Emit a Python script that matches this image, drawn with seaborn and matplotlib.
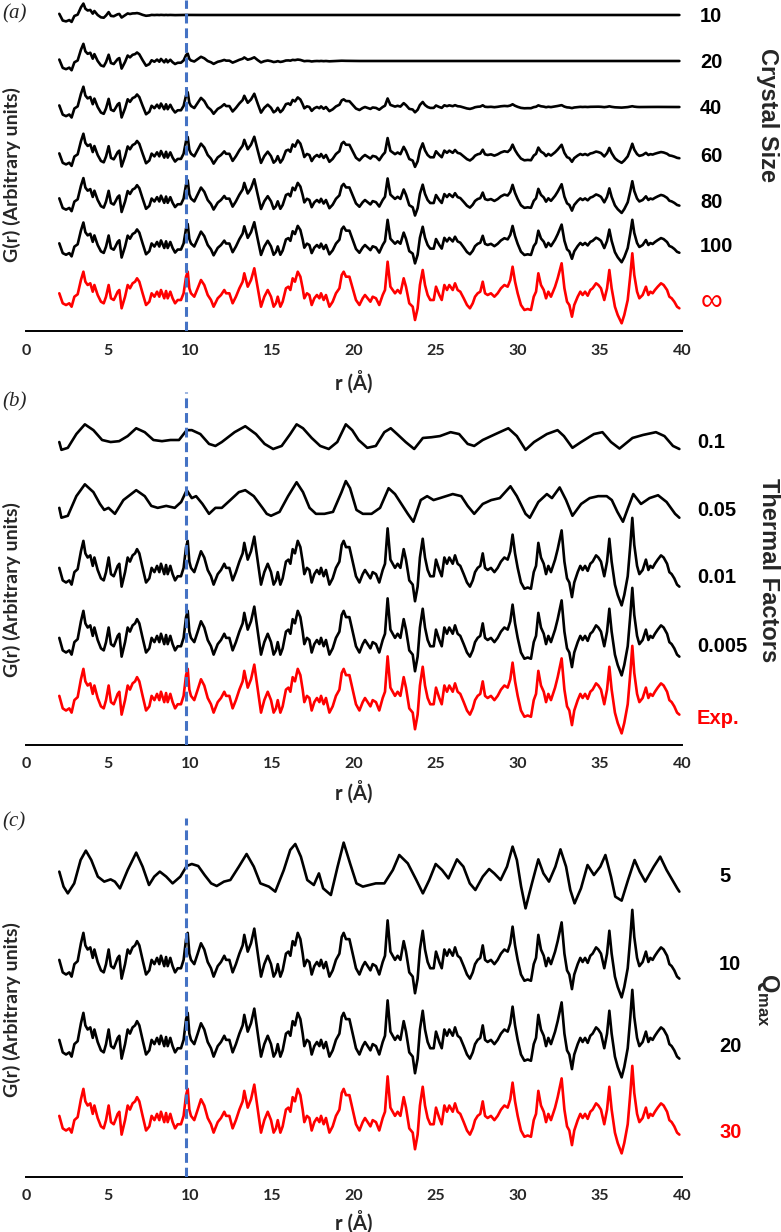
import numpy as np
import matplotlib
matplotlib.use("Agg")
import matplotlib.pyplot as plt
import seaborn as sns

r_exp = [2.03, 2.24, 2.44, 2.64, 2.78, 2.95, 3.15, 3.35, 3.50, 3.62, 3.76, 3.92, 4.07, 4.17, 4.37, 4.57,
         4.74, 4.88, 5.04, 5.18, 5.35, 5.45, 5.59, 5.69, 5.83, 6.04, 6.20, 6.34, 6.50, 6.65, 6.77, 6.91,
         7.11, 7.32, 7.42, 7.52, 7.66, 7.83, 7.99, 8.13, 8.23, 8.43, 8.54, 8.64, 8.80, 8.94, 9.09, 9.25,
         9.45, 9.61, 9.76, 9.86, 9.96, 10.06, 10.26, 10.47, 10.67, 10.87, 11.08, 11.28, 11.44, 11.69,
         11.89, 12.09, 12.20, 12.40, 12.60, 12.80, 13.01, 13.21, 13.31, 13.52, 13.72, 13.92, 14.13, 14.33,
         14.53, 14.74, 14.94, 15.10, 15.24, 15.35, 15.51, 15.65, 15.85, 16.00, 16.12, 16.26, 16.40, 16.57,
         16.73, 16.87, 16.97, 17.13, 17.28, 17.42, 17.58, 17.74, 17.89, 17.99, 18.15, 18.29, 18.50, 18.70,
         18.90, 19.11, 19.25, 19.37, 19.51, 19.72, 19.92, 20.12, 20.33, 20.53, 20.67, 20.83, 21.00, 21.14,
         21.34, 21.54, 21.75, 21.89, 22.05, 22.22, 22.36, 22.50, 22.66, 22.83, 23.03, 23.17, 23.37, 23.58,
         23.72, 23.88, 24.02, 24.19, 24.33, 24.49, 24.65, 24.86, 25.00, 25.20, 25.35, 25.51, 25.67, 25.81,
         26.02, 26.16, 26.32, 26.48, 26.69, 26.89, 27.07, 27.24, 27.38, 27.54, 27.70, 27.85, 27.99, 28.15,
         28.35, 28.56, 28.76, 28.96, 29.17, 29.37, 29.53, 29.67, 29.82, 29.98, 30.18, 30.39, 30.59, 30.79,
         30.96, 31.10, 31.24, 31.40, 31.57, 31.71, 31.85, 32.01, 32.26, 32.42, 32.66, 32.83, 32.99, 33.13,
         33.29, 33.43, 33.64, 33.80, 33.94, 34.09, 34.25, 34.41, 34.55, 34.76, 34.90, 35.06, 35.26, 35.43,
         35.57, 35.71, 35.91, 36.08, 36.32, 36.48, 36.69, 36.85, 36.97, 37.09, 37.26, 37.40, 37.60, 37.80,
         37.95, 38.07, 38.21, 38.35, 38.52, 38.72, 38.88, 39.09, 39.23, 39.37, 39.53, 39.70, 39.84]
g_exp = [0.17, -0.83, -1.0, -0.83, -1.17, -0.17, 0.07, 1.5, 2.33, 1.33, 1.0, 1.17, 0.33, 1.0, 0.0, -0.67,
         -0.83, -0.17, 1.0, -0.33, -0.5, -0.17, 0.33, 0.5, -1.33, -0.17, 1.0, 0.67, 1.17, 1.33, 1.67, 1.33,
         0.17, -1.0, -0.83, -0.67, 0.17, -0.17, 0.33, -0.17, 0.5, -0.33, 0.4, -0.33, 0.33, -0.33, -0.83, -0.5,
         -0.5, 0.17, 1.83, 2.33, 0.67, 0.17, -0.17, 0.67, 1.5, 1.0, 0.0, -0.5, -1.17, -0.33,
         0.0, 0.5, 0.17, 0.17, -0.83, -0.17, 0.67, 1.33, 2.17, 0.83, 1.5, 2.67, 0.67, -1.17,
         -0.17, 0.5, -0.17, -1.17, -0.83, -0.17, -1.17, -0.67, 0.67, 0.83, 0.5, 1.67, 1.33, 2.33,
         1.83, 0.67, -0.33, 0.17, 0.0, -1.0, -0.33, 0.0, -0.33, 0.17, -0.5, 0.0, -1.17, -0.67,
         0.17, 0.67, 2.0, 2.33, 1.83, 1.83, 0.67, -0.5, -1.0, -0.33, 0.0, -0.33, -0.67, -0.17,
         -0.33, -1.0, 0.0, 0.5, 3.33, 0.83, 0.5, 0.17, 0.5, 0.17, 1.67, 0.83, -0.83, -1.17,
         -2.5, -1.33, 1.0, 2.5, 1.0, 0.0, -0.5, -0.5, 0.83, 0.0, -0.5, 1.0, 0.5, 1.0,
         0.5, 1.17, 0.5, 0.33, -0.33, -1.0, -1.33, -0.83, -0.17, 0.17, 0.33, 1.33, 0.17, 0.0,
         0.17, -0.17, 0.17, 0.67, 1.0, 0.83, 1.5, 2.83, 1.33, 0.17, -1.0, -1.5, -1.4, -1.5,
         -0.17, 0.33, 2.17, 1.0, 0.5, -0.33, 0.33, -0.17, 0.83, 1.67, 3.17, 0.67, -0.67, -1.0,
         -2.17, -1.0, -0.17, 0.33, 0.0, 0.33, -0.07, 0.5, 0.67, 1.17, 1.0, 0.67, -0.5, 0.67,
         2.5, 0.67, -1.17, -2.0, -2.83, -2.0, -0.5, 2.0, 4.17, 2.0, 0.33, -0.33, 0.0, 0.83,
         0.0, 0.33, 0.17, 0.5, 0.83, 1.17, 1.0, 0.5, -0.17, -0.33, -0.67, -1.17, -1.33]

# panel (a): damping of the peaks with crystal size, read as amplitude ratios
sizes = ["10", "20", "40", "60", "80", "100"]
env_r = [2, 4, 6, 8, 10, 15, 20, 25, 30, 35, 40]
env_10 = [0.70, 0.42, 0.17, 0.03, 0.0, 0.0, 0.0, 0.0, 0.0, 0.0, 0.0]
env_20 = [0.85, 0.70, 0.56, 0.43, 0.31, 0.09, 0.0, 0.0, 0.0, 0.0, 0.0]
env_40 = [0.93, 0.85, 0.78, 0.70, 0.63, 0.46, 0.31, 0.18, 0.09, 0.03, 0.0]
env_60 = [0.95, 0.90, 0.86, 0.81, 0.77, 0.66, 0.55, 0.45, 0.36, 0.29, 0.24]
env_80 = [0.97, 0.93, 0.90, 0.87, 0.84, 0.76, 0.68, 0.60, 0.53, 0.47, 0.42]
env_100 = [0.98, 0.96, 0.94, 0.92, 0.90, 0.84, 0.78, 0.72, 0.67, 0.62, 0.58]
envelopes = [env_10, env_20, env_40, env_60, env_80, env_100]

# panel (b): broad thermal factor curves
r_b01 = [2.03, 2.16, 2.55, 3.07, 3.59, 4.11, 4.64, 5.16, 5.68, 6.20, 6.72, 7.24, 7.77, 8.29, 8.81, 9.33,
         9.80, 10.11, 10.63, 11.16, 11.55, 11.94, 12.72, 13.37, 14.02, 14.55, 15.07, 15.59, 16.11, 16.50,
         16.89, 17.42, 17.94, 18.46, 18.98, 19.50, 19.89, 20.28, 20.81, 21.33, 21.85, 22.24, 22.63, 23.15,
         23.67, 24.20, 24.72, 25.24, 25.89, 26.41, 26.93, 27.33, 27.85, 28.63, 29.41, 29.93, 30.46, 30.98,
         31.76, 32.41, 32.80, 33.32, 33.85, 34.63, 35.15, 35.67, 36.19, 36.98, 37.63, 38.41, 38.93, 39.45, 39.84]
g_b01 = [-0.14, -0.68, -0.54, 0.41, 1.08, 0.68, 0.0, -0.14, -0.08, 0.27, 0.81, 0.54, 0.0, -0.08, 0.0, 0.0,
         0.68, 0.68, 0.41, -0.27, -0.41, -0.14, 0.54, 0.95, 0.41, -0.27, -0.62, -0.41, 0.41, 1.08,
         0.81, 0.14, -0.41, -0.62, -0.14, 1.08, 0.68, 0.0, -0.54, -0.41, 0.54, 0.81, 0.41, -0.14,
         -0.62, 0.14, 0.19, 0.27, 0.54, 0.41, -0.27, -0.41, 0.0, 0.41, 0.81, 0.27, -0.68, -0.14,
         0.41, 0.68, 0.27, -0.54, -0.14, 0.41, 0.54, -0.14, -0.59, 0.14, 0.35, 0.54, 0.27, -0.41, -0.62]
r_b005 = [2.03, 2.16, 2.55, 3.07, 3.59, 4.11, 4.51, 4.77, 5.03, 5.42, 5.94, 6.72, 7.24, 7.64, 8.03, 8.55,
          9.07, 9.46, 9.80, 10.11, 10.37, 10.76, 11.16, 11.55, 11.94, 12.46, 12.98, 13.37, 13.89, 14.42,
          14.68, 14.94, 15.46, 15.98, 16.50, 16.89, 17.29, 17.68, 18.20, 18.72, 19.24, 19.50, 19.76, 20.15,
          20.54, 21.07, 21.59, 22.11, 22.50, 22.89, 23.28, 23.62, 24.07, 24.46, 24.85, 25.24, 26.02, 26.54,
          26.93, 27.33, 27.85, 28.37, 28.89, 29.54, 29.93, 30.46, 30.72, 31.24, 31.76, 32.07, 32.54, 32.93,
          33.32, 33.85, 34.37, 34.89, 35.41, 35.72, 36.06, 36.40, 36.71, 37.03, 37.50, 38.02, 38.54, 39.06,
          39.58, 39.84]
g_b005 = [-0.45, -1.21, -1.06, 0.45, 1.36, 0.76, -0.15, -0.61, -0.45, -0.91, 0.15, 0.91, 0.45, -0.30, -0.45, -0.30,
          -0.45, 0.0, 0.91, 0.30, 0.45, -0.15, -0.91, -0.45, -0.45, 0.15, 0.76, 0.91, 0.45, -0.45,
          -0.91, -1.06, -0.76, 0.45, 1.52, 0.76, -0.45, -0.91, -0.91, -0.76, 0.76, 1.61, 1.06, -0.61,
          -0.91, -0.91, -0.45, 1.06, 0.61, -0.15, -0.91, -1.52, 0.15, 0.45, 0.15, 0.30, 0.61, 0.45,
          -0.30, -0.91, -0.15, 0.15, 0.30, 1.21, 0.45, -0.91, -1.21, 0.0, 0.61, 0.30, 1.12, 0.15,
          -1.06, -0.15, 0.30, 0.45, 0.45, 0.15, -0.76, -1.52, -0.45, 0.61, -0.15, 0.30, 0.52, 0.0,
          -0.91, -1.21]

# panel (c): Qmax = 5 curve
r_q5 = [2.03, 2.29, 2.55, 2.94, 3.33, 3.65, 3.98, 4.38, 4.77, 5.16, 5.42, 5.73, 6.20, 6.72, 7.11, 7.50,
        7.82, 8.16, 8.55, 8.94, 9.41, 9.80, 10.11, 10.50, 10.89, 11.29, 11.63, 12.07, 12.46, 12.98, 13.45,
        13.89, 14.29, 14.81, 15.20, 15.72, 16.11, 16.42, 16.76, 17.15, 17.55, 17.86, 18.12, 18.59, 19.00,
        19.37, 19.76, 20.15, 20.54, 20.93, 21.33, 21.85, 22.37, 22.76, 23.28, 23.80, 24.20, 24.59, 24.98,
        25.37, 25.76, 26.28, 26.67, 27.06, 27.40, 27.85, 28.24, 28.55, 28.94, 29.33, 29.67, 29.93, 30.19,
        30.46, 30.85, 31.24, 31.55, 31.89, 32.28, 32.59, 32.93, 33.19, 33.45, 33.84, 34.24, 34.63, 35.02,
        35.33, 35.67, 35.93, 36.32, 36.71, 37.11, 37.42, 37.76, 38.28, 38.67, 39.06, 39.71, 39.84]
g_q5 = [0.27, -0.93, -1.47, -0.67, 1.20, 1.95, 1.20, -0.13, -0.53, -0.35, -0.53, -1.07, 0.40, 1.79, 0.67, -0.80,
        -0.13, 0.27, -0.13, -0.67, -0.13, 0.72, 0.88, 0.72, 0.0, -0.67, -0.88, -0.53, -0.40, 0.67, 1.68,
        0.67, -0.67, -0.93, -1.33, 0.40, 2.00, 2.48, 1.47, -0.40, -0.80, 0.13, -1.07, -1.60, 0.67,
        2.59, 0.93, -0.67, -0.93, -0.80, -0.67, -0.67, 0.40, 1.60, 0.93, -0.40, -1.47, -0.40, 0.88,
        0.40, -0.27, 1.25, 0.67, -0.67, -1.20, -0.13, 0.48, 0.13, -0.40, 0.67, 2.27, 1.20, -0.93,
        -2.67, -0.67, 1.25, 0.13, -0.53, 0.67, 2.05, 0.67, -1.20, -2.27, -1.07, 0.80, 0.0, 0.67,
        1.60, -0.13, -1.73, -2.05, -0.40, 1.20, 0.27, -0.53, 0.67, 1.47, 0.40, -1.07, -1.33]

labels_b = ["0.1", "0.05", "0.01", "0.005", "Exp."]
labels_c = ["5", "10", "20", "30"]
dashed_r = 9.76

W, H = 781, 1232
fig = plt.figure(figsize=(W / 100, H / 100), dpi=100)
sns.set_style("white")
tick_font = "Lato"
lab_font = "Liberation Sans"


def make_panel(top, bottom):
    ax = fig.add_axes([26 / W, 1 - bottom / H, 656 / W, (bottom - top) / H])
    ax.set_xlim(0, 40)
    ax.set_ylim(-bottom, -top)
    for s in ["top", "right", "left"]:
        ax.spines[s].set_visible(False)
    ax.spines["bottom"].set_color("black")
    ax.spines["bottom"].set_linewidth(1.4)
    ax.set_xticks(range(0, 41, 5))
    ax.set_yticks([])
    ax.tick_params(axis="x", length=0, pad=9)
    for t in ax.get_xticklabels():
        t.set_fontfamily(tick_font)
        t.set_fontweight("bold")
        t.set_fontsize(11.5)
    ax.axvline(dashed_r, ymin=0, ymax=1, color="#4472C4", lw=2.2, ls=(0, (3.2, 1.6)), zorder=5)
    return ax


def draw(ax, r, g, base, scale, color):
    y = -base + np.asarray(g) * scale
    sns.lineplot(x=np.asarray(r), y=y, ax=ax, color=color, lw=1.9, sort=False, estimator=None,
                 zorder=3, solid_joinstyle="round", solid_capstyle="round")


def side_label(x, y, txt, color="black", size=14.5, weight="bold"):
    fig.text(x / W, 1 - y / H, txt, fontsize=size, fontweight=weight, family=lab_font,
             color=color, ha="left", va="center")


# ---------- panel (a)
ax_a = make_panel(0, 331)
bases_a = [15, 61, 107, 155, 200, 245]
for env, base, lab in zip(envelopes, bases_a, sizes):
    damp = np.interp(r_exp, env_r, env)
    draw(ax_a, r_exp, np.asarray(g_exp) * damp, base, 10, "black")
    side_label(700, base + 2, lab)
draw(ax_a, r_exp, g_exp, 295, 10, "red")
side_label(701, 301, "\u221e", "red", size=22, weight="normal")

# ---------- panel (b)
ax_b = make_panel(392, 745)
draw(ax_b, r_b01, g_b01, 440, 14.5, "black")
draw(ax_b, r_b005, g_b005, 502, 13, "black")
draw(ax_b, r_exp, g_exp, 570, 12.5, "black")
draw(ax_b, r_exp, g_exp, 640, 12.5, "black")
draw(ax_b, r_exp, g_exp, 698, 12.5, "red")
for lab, yy in zip(labels_b, [443, 510, 578, 647, 718]):
    side_label(697, yy, lab, "red" if lab == "Exp." else "black")

# ---------- panel (c)
ax_c = make_panel(818, 1177)
draw(ax_c, r_q5, g_q5, 875, 12.5, "black")
draw(ax_c, r_exp, g_exp, 962, 12.5, "black")
draw(ax_c, r_exp, g_exp, 1042, 12.5, "black")
draw(ax_c, r_exp, g_exp, 1118, 12.5, "red")
for lab, yy in zip(labels_c, [877, 965, 1047, 1133]):
    side_label(719, yy, lab, "red" if lab == "30" else "black")

# axis titles and panel letters
for ax, (ylab_y, xl_y, letter_y, letter, side_y, side_txt) in zip(
        [ax_a, ax_b, ax_c],
        [(175, 382, 14, "(a)", 115, "Crystal Size"),
         (590, 792, 402, "(b)", 570, "Thermal Factors"),
         (1010, 1222, 822, "(c)", 1000, r"Q$_{\mathregular{max}}$")]):
    fig.text(354 / W, 1 - xl_y / H, "r (\u00c5)", fontsize=14.5, fontweight="bold", family=tick_font,
             ha="center", va="center")
    fig.text(12 / W, 1 - ylab_y / H, "G(r) (Arbitrary units)", fontsize=14, fontweight="bold",
             family=tick_font, rotation=90, ha="center", va="center")
    fig.text(2 / W, 1 - letter_y / H, letter, fontsize=15, style="italic", family="Liberation Serif",
             ha="left", va="center")
    fig.text(768 / W, 1 - side_y / H, side_txt, fontsize=17, fontweight="bold", family=lab_font,
             rotation=270, ha="center", va="center")

fig.savefig("out.png", dpi=100)
